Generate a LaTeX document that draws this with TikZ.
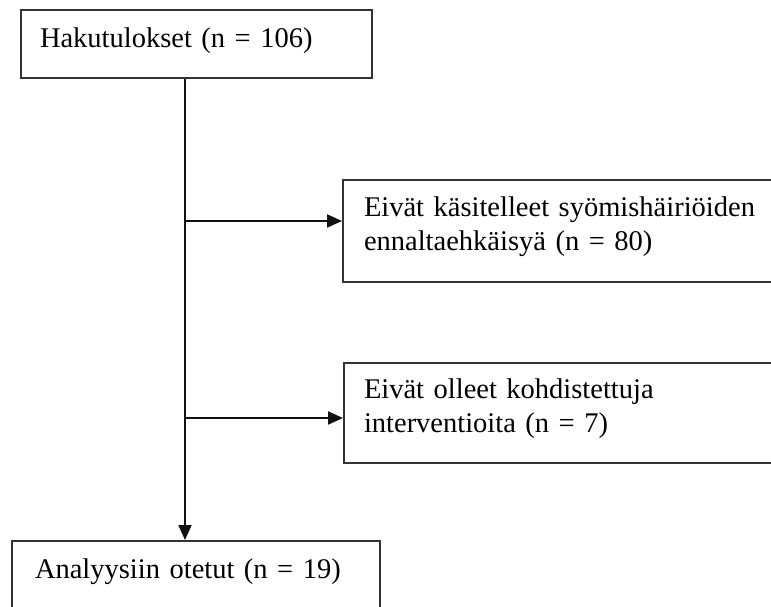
\documentclass[tikz,border=0pt]{standalone}
\usepackage{fontspec}
\setmainfont{Liberation Serif}
\usetikzlibrary{arrows.meta, positioning}
\definecolor{ink}{HTML}{111111}
\definecolor{reuna}{HTML}{333333}

\begin{document}
\begin{tikzpicture}[x=1pt, y=-1pt, font=\fontsize{28.5pt}{34pt}\selectfont]
    \tikzset{
      laatikko/.style={rectangle, draw=reuna, line width=2pt, anchor=north west,
                align=left, inner xsep=20pt, inner ysep=0pt},
      nuoli/.style={-{Triangle[length=15pt, width=13pt]}, line width=2pt, color=ink}
    }
    \clip (0,0) rectangle (771,607);
    \node[laatikko, inner xsep=19pt, text width=313pt, minimum height=68pt,
          text height=38pt, text depth=30pt] (haku) at (20,9) {Hakutulokset (n = 106)};
    \node[laatikko, inner xsep=21pt, text width=430pt, minimum height=102pt,
          text height=36pt, text depth=66pt] (kas) at (342,179)
          {Eivät käsitelleet syömishäiriöiden\\ennaltaehkäisyä (n = 80)};
    \node[laatikko, inner xsep=20pt, text width=430pt, minimum height=100pt,
          text height=35pt, text depth=65pt] (koh) at (343,362)
          {Eivät olleet kohdistettuja\\interventioita (n = 7)};
    \node[laatikko, inner xsep=23pt, text width=322pt, minimum height=80pt,
          text height=37pt, text depth=43pt] (ana) at (11,540) {Analyysiin otetut (n = 19)};
    \coordinate (runko) at (185,0);
    \coordinate (h1) at (185,221);
    \coordinate (h2) at (185,418);
    \draw[nuoli] (haku.south -| runko) -- (runko |- ana.north);
    \draw[nuoli] (h1) -- (h1 -| kas.west);
    \draw[nuoli] (h2) -- (h2 -| koh.west);
  \end{tikzpicture}
\end{document}
